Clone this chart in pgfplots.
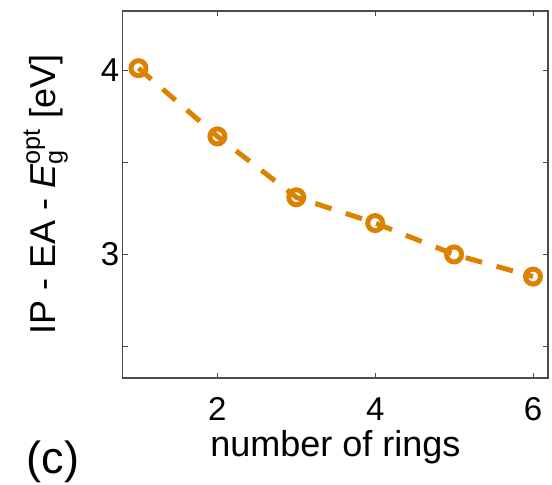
\documentclass[border=0pt]{standalone}
\usepackage{fontspec}
\setmainfont{Liberation Sans}
\usepackage{amsmath}
\usepackage{pgfplots}
\pgfplotsset{compat=1.18}
\definecolor{ringorange}{RGB}{220,130,0}
\begin{document}
\begin{tikzpicture}
\begin{axis}[
    scale only axis,
    width=425.3pt,
    height=367pt,
    xmin=0.8, xmax=6.19,
    ymin=2.33, ymax=4.32,
    xtick={2,4,6},
    ytick={2.5,3,3.5,4},
    yticklabels={,3,,4},
    tick align=inside,
    major tick length=5pt,
    axis line style={black!70, line width=1.2pt},
    tick style={black!70, line width=1pt},
    /pgf/number format/assume math mode=true,
    ticklabel style={font=\fontsize{33}{40}\selectfont},
    xticklabel style={anchor=base, yshift=-42pt},
    xlabel={number of rings},
    ylabel={IP - EA - $\textit{E}_{\text{g}}^{\text{opt}}$ [eV]},
    label style={font=\fontsize{36}{43}\selectfont},
    xlabel style={at={(axis description cs:0.5,-0.215)}, anchor=base},
    ylabel style={at={(axis description cs:-0.181,0.5)}, anchor=center},
    clip=false,
]
\addplot[ringorange, line width=5pt, dash pattern=on 17pt off 15pt,
    mark=o, mark size=7.5pt, mark options={solid}]
    coordinates {(1,4.01) (2,3.64) (3,3.31) (4,3.17) (5,3.00) (6,2.88)};
\node[font=\fontsize{45}{54}\selectfont, xshift=-69.7pt, yshift=-84pt]
    at (rel axis cs:0,0) {(c)};
\end{axis}
\pgfresetboundingbox
\useasboundingbox (-122.7pt,-107pt) rectangle (429.3pt,378pt);
\end{tikzpicture}
\end{document}
